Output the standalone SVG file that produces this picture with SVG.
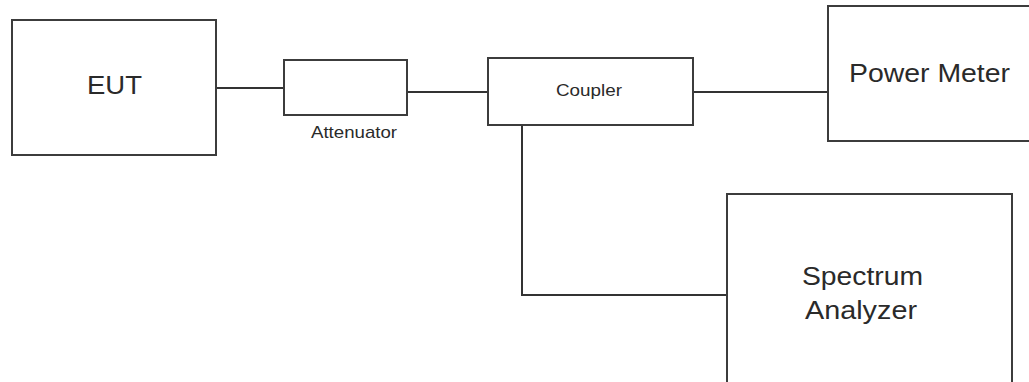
<svg xmlns="http://www.w3.org/2000/svg" width="1029" height="382" viewBox="0 0 1029 382">
<style>
.box{fill:#fff;stroke:#3c3c3c;stroke-width:2}
.wire{fill:none;stroke:#333;stroke-width:2}
.big{font-family:"Liberation Sans",Arial,sans-serif;font-size:26px;fill:#2a2a2a}
.small{font-family:"Liberation Sans",Arial,sans-serif;font-size:17px;fill:#2a2a2a}
</style>
<rect width="1029" height="382" fill="#fff"/>
<g id="connectors">
<path class="wire" d="M216 88H284"/>
<path class="wire" d="M407 92H488"/>
<path class="wire" d="M693 92H828"/>
<path class="wire" d="M522 125V295H727"/>
</g>
<g id="eut">
<rect class="box" x="12" y="20" width="204" height="135"/>
<text class="big" x="87" y="94" textLength="55" lengthAdjust="spacingAndGlyphs">EUT</text>
</g>
<g id="attenuator">
<rect class="box" x="284" y="60" width="123" height="55"/>
<text class="small" x="311" y="138" textLength="86" lengthAdjust="spacingAndGlyphs">Attenuator</text>
</g>
<g id="coupler">
<rect class="box" x="488" y="58" width="205" height="67"/>
<text class="small" x="556" y="96" textLength="66" lengthAdjust="spacingAndGlyphs">Coupler</text>
</g>
<g id="power-meter">
<rect class="box" x="828" y="6" width="220" height="135"/>
<text class="big" x="849" y="82" textLength="161" lengthAdjust="spacingAndGlyphs">Power Meter</text>
</g>
<g id="spectrum-analyzer">
<rect class="box" x="727" y="194" width="285" height="200"/>
<text class="big" x="802" y="285" textLength="121" lengthAdjust="spacingAndGlyphs">Spectrum</text>
<text class="big" x="805" y="319" textLength="112" lengthAdjust="spacingAndGlyphs">Analyzer</text>
</g>
</svg>
